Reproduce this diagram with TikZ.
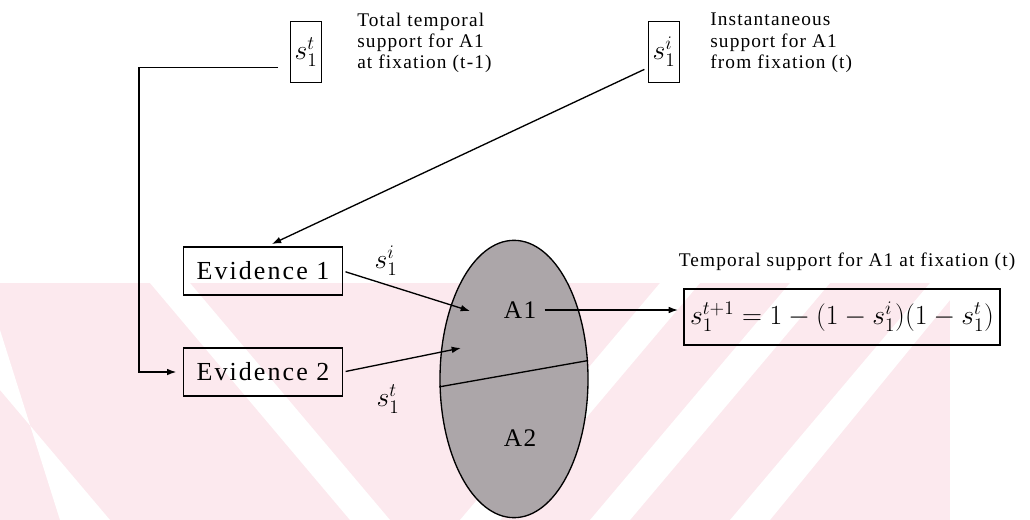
\documentclass[tikz,border=0pt]{standalone}
\usepackage{fontspec}
\setmainfont{Liberation Serif}
\usetikzlibrary{shapes.geometric,arrows.meta,calc}
\definecolor{wm}{RGB}{252,233,238}
\definecolor{ellfill}{RGB}{172,166,169}
\begin{document}
\begin{tikzpicture}[x=0.75pt,y=-0.75pt,
  box/.style={draw,line width=1pt,inner sep=0pt,align=center},
  evbox/.style={box,minimum width=119pt,minimum height=36pt,
    font={\fontsize{19.5}{20}\selectfont\addfontfeatures{LetterSpace=8}}},
  sbox/.style={box,minimum width=23pt,minimum height=46pt,
    font={\fontsize{21}{21}\selectfont}},
  desc/.style={align=left,anchor=west,inner sep=0pt,
    font={\fontsize{14.5}{16}\selectfont\addfontfeatures{LetterSpace=6}}},
  conn/.style={line width=1pt},
  arr/.style={conn,-{Latex[length=7pt,width=5pt]}},
  lab/.style={inner sep=0pt,font={\fontsize{21}{21}\selectfont}},
  area/.style={inner sep=0pt,font={\fontsize{19}{19}\selectfont\addfontfeatures{LetterSpace=6}}}
]
\useasboundingbox (0,0) rectangle (1030,520);
\fill[white] (0,0) rectangle (1030,520);
% faint watermark
\fill[wm] (0,283) rectangle (950,520);
\fill[white] (150,283) -- (190,283) -- (390,520) -- (350,520) -- cycle;
\fill[white] (0,330) -- (0,390) -- (110,520) -- (60,520) -- cycle;
\fill[white] (660,283) -- (700,283) -- (500,520) -- (460,520) -- cycle;
\fill[white] (790,283) -- (830,283) -- (630,520) -- (590,520) -- cycle;
\fill[white] (930,283) -- (950,283) -- (950,300) -- (770,520) -- (730,520) -- cycle;

% nodes
\node[sbox] (st) at (306,52) {$s_1^t$};
\node[sbox] (si) at (664,52) {$s_1^i$};
\node[desc] (dt) at (357,43) {Total temporal\\support for A1\\at fixation (t-1)};
\node[desc] (di) at (710,43) {Instantaneous\\support for A1\\from fixation (t)};
\node[evbox] (ev1) at (263,271) {Evidence 1};
\node[evbox] (ev2) at (263,372) {Evidence 2};
\node[ellipse,draw,fill=ellfill,line width=1pt,inner sep=0pt,
      minimum width=111pt,minimum height=208pt] (ell) at (514,379) {};
\draw[conn] (ell.186) -- (ell.14);
\node[area] (a1) at (520,310) {A1};
\node[area] (a2) at (520,438) {A2};
\node[box,minimum width=237pt,minimum height=42pt,
      font={\fontsize{20}{22}\selectfont}] (fb) at (842,317)
      {$s_1^{t+1} = 1-(1-s_1^i)(1-s_1^t)$};
\node[inner sep=0pt,font={\fontsize{14.5}{16}\selectfont\addfontfeatures{LetterSpace=6}}]
      (tt) at (847,262) {Temporal support for A1 at fixation (t)};
\node[lab] (li) at (386,261) {$s_1^i$};
\node[lab] (lt) at (388,399) {$s_1^t$};

% connectors
\coordinate (lx) at (139,0);
\coordinate (stA) at ($(st.south west)!0.25!(st.north west)$);
\coordinate (siA) at ($(si.south west)!0.25!(si.north west)$);
\coordinate (t1) at (470,311);
\coordinate (t2) at (461,348);
\draw[arr,shorten <=9pt,shorten >=5pt] (stA) -- (stA -| lx) |- (ev2.west);
\draw[arr,shorten <=3pt,shorten >=4pt] (siA) -- ([xshift=3pt]ev1.north);
\draw[arr,shorten <=2pt] (ev1.east) -- (t1);
\draw[arr,shorten <=2pt] (ev2.east) -- (t2);
\draw[arr,shorten <=6pt,shorten >=4pt] (a1.east) -- (a1.east -| fb.west);
\end{tikzpicture}
\end{document}
